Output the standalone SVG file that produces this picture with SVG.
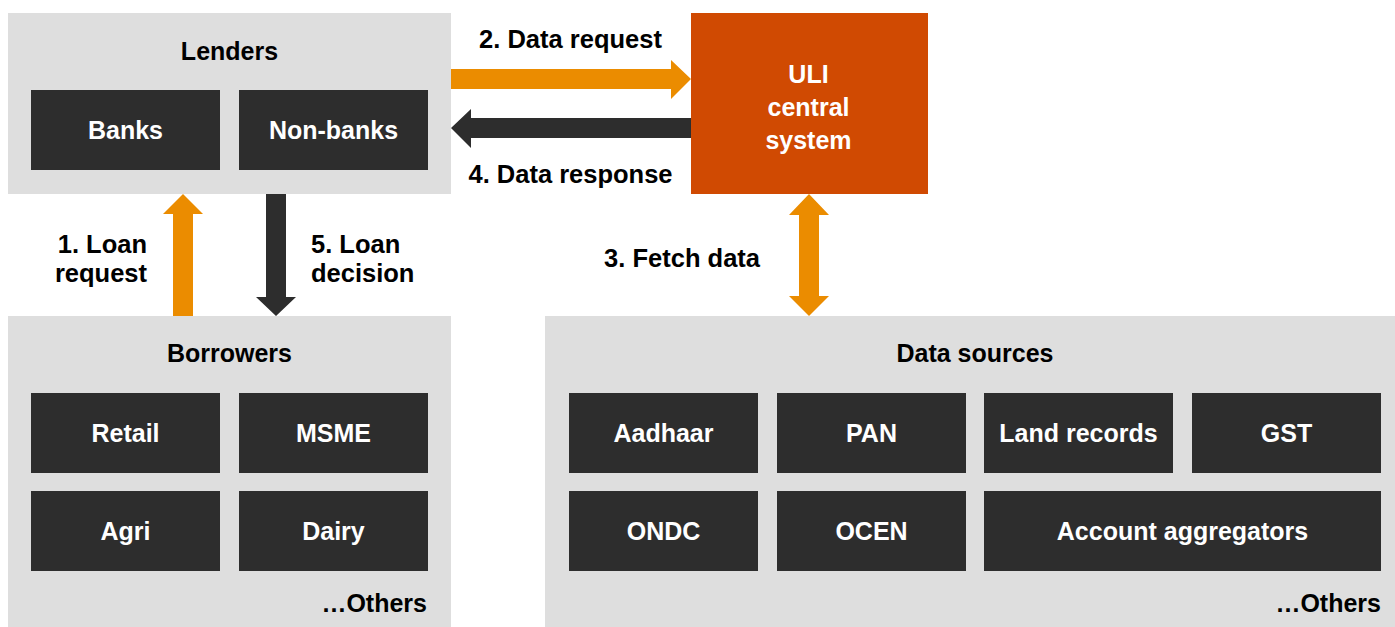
<svg xmlns="http://www.w3.org/2000/svg" width="1395" height="627" viewBox="0 0 1395 627">
<style>
.grp{fill:#DEDEDE}
.box{fill:#2D2D2D}
.t{font-family:"Liberation Sans",Arial,Helvetica,sans-serif;font-weight:bold;font-size:25px}
.a{font-size:25.5px}
.w{fill:#FFFFFF;text-anchor:middle}
.k{fill:#000000}
.c{text-anchor:middle}
.e{text-anchor:end}
.org{fill:#EB8C00}
.drk{fill:#2D2D2D}
</style>
<rect width="1395" height="627" fill="#FFFFFF"/>

<g id="lenders">
<rect class="grp" x="8" y="13" width="443" height="181"/>
<text class="t k c" x="229.5" y="60">Lenders</text>
</g>
<g id="banks">
<rect class="box" x="31" y="90" width="189" height="80"/>
<text class="t w" x="125.5" y="139">Banks</text>
</g>
<g id="nonbanks">
<rect class="box" x="239" y="90" width="189" height="80"/>
<text class="t w" x="333.5" y="139">Non-banks</text>
</g>

<g id="uli">
<rect fill="#D04A02" x="691" y="13" width="237" height="181"/>
<text class="t w" x="808.5" y="83">ULI</text>
<text class="t w" x="808.5" y="116">central</text>
<text class="t w" x="808.5" y="149">system</text>
</g>

<g id="borrowers">
<rect class="grp" x="8" y="316" width="443" height="311"/>
<text class="t k c" x="229.5" y="362">Borrowers</text>
<text class="t k e" x="427" y="612">…Others</text>
</g>
<g id="retail">
<rect class="box" x="31" y="393" width="189" height="80"/>
<text class="t w" x="125.5" y="442">Retail</text>
</g>
<g id="msme">
<rect class="box" x="239" y="393" width="189" height="80"/>
<text class="t w" x="333.5" y="442">MSME</text>
</g>
<g id="agri">
<rect class="box" x="31" y="491" width="189" height="80"/>
<text class="t w" x="125.5" y="540">Agri</text>
</g>
<g id="dairy">
<rect class="box" x="239" y="491" width="189" height="80"/>
<text class="t w" x="333.5" y="540">Dairy</text>
</g>

<g id="datasources">
<rect class="grp" x="545" y="316" width="850" height="311"/>
<text class="t k c" x="975" y="362">Data sources</text>
<text class="t k e" x="1381" y="612">…Others</text>
</g>
<g id="aadhaar">
<rect class="box" x="569" y="393" width="189" height="80"/>
<text class="t w" x="663.5" y="442">Aadhaar</text>
</g>
<g id="pan">
<rect class="box" x="777" y="393" width="189" height="80"/>
<text class="t w" x="871.5" y="442">PAN</text>
</g>
<g id="landrecords">
<rect class="box" x="984" y="393" width="189" height="80"/>
<text class="t w" x="1078.5" y="442">Land records</text>
</g>
<g id="gst">
<rect class="box" x="1192" y="393" width="189" height="80"/>
<text class="t w" x="1286.5" y="442">GST</text>
</g>
<g id="ondc">
<rect class="box" x="569" y="491" width="189" height="80"/>
<text class="t w" x="663.5" y="540">ONDC</text>
</g>
<g id="ocen">
<rect class="box" x="777" y="491" width="189" height="80"/>
<text class="t w" x="871.5" y="540">OCEN</text>
</g>
<g id="accountaggregators">
<rect class="box" x="984" y="491" width="397" height="80"/>
<text class="t w" x="1182.5" y="540">Account aggregators</text>
</g>

<g id="connectors">
<polygon class="org" points="451,69 671,69 671,60 691,79 671,99 671,89 451,89"/>
<text class="t a k c" x="570.5" y="48">2. Data request</text>
<polygon class="drk" points="691,118 471,118 471,109 451,128 471,148 471,138 691,138"/>
<text class="t a k c" x="570.5" y="183">4. Data response</text>
<polygon class="org" points="173,316 173,214 163,214 183,194 203,214 193,214 193,316"/>
<text class="t a k e" x="147" y="253">1. Loan</text>
<text class="t a k e" x="147" y="282">request</text>
<polygon class="drk" points="266,194 266,297 256,297 276,316 296,297 286,297 286,194"/>
<text class="t a k" x="311" y="253">5. Loan</text>
<text class="t a k" x="311" y="282">decision</text>
<polygon class="org" points="809,194 829,215 819,215 819,296 829,296 809,316 789,296 799,296 799,215 789,215"/>
<text class="t a k e" x="760" y="267">3. Fetch data</text>
</g>
</svg>
